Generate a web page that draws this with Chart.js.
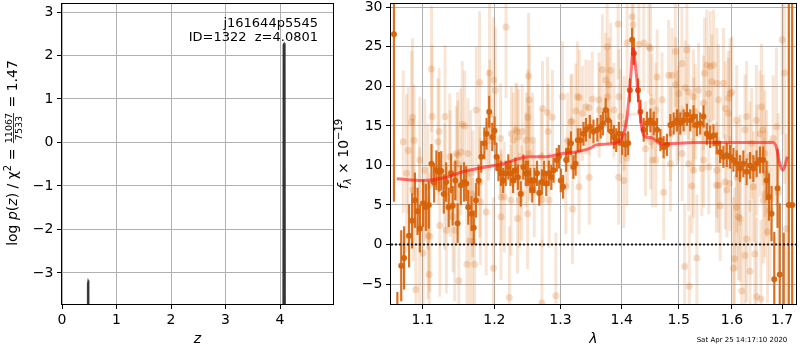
<!doctype html>
<html>

<head>
  <meta charset="utf-8">
  <title>Redshift fit j161644p5545</title>
  <style>
    html, body { margin: 0; padding: 0; background: #fff; }
    #wrap { position: relative; width: 800px; height: 350px; overflow: hidden; }
    canvas { position: absolute; top: -20px; }
    #pz { left: 0; }
    #spec { left: 320px; }
  </style>
</head>

<body>
  <div id="wrap">
    <canvas id="pz" width="345" height="390"></canvas>
    <canvas id="spec" width="480" height="390"></canvas>
  </div>

  <script src="https://cdn.jsdelivr.net/npm/chart.js"></script>
  <script>
    // ---- left panel: p(z)
    const objName = 'j161644p5545';
    const objId = 1322;
    const zBest = 4.0801;
    const chi2 = 11067;
    const nDof = 7533;
    const zGrid = [0.0, 0.46, 0.47, 0.48, 0.49, 0.50, 4.05, 4.06, 4.075, 4.09, 4.10, 4.97];
    const logPz = [-12, -12, -3.25, -3.17, -3.2, -12, -12, 2.25, 2.28, 2.2, -12, -12];
    const zTicks = [0, 1, 2, 3, 4];
    const logPTicks = [-3, -2, -1, 0, 1, 2, 3];

    // ---- right panel: spectrum (flux in 1e-19)
    const lamTicks = [1.1, 1.2, 1.3, 1.4, 1.5, 1.6, 1.7];
    const fluxTicks = [-5, 0, 5, 10, 15, 20, 25, 30];
    const lamMin = 1.0588, lamMax = 1.729;

    // raw (faint) points
    const lightLam = [
      1.0746, 1.0790, 1.0811, 1.0868, 1.0876, 1.0889, 1.0911, 1.0960, 1.0964, 1.1008,
      1.1074, 1.1088, 1.1097, 1.1120, 1.1128, 1.1223, 1.1232, 1.1304, 1.1323, 1.1413,
      1.1436, 1.1459, 1.1482, 1.1495, 1.1542, 1.1575, 1.1607, 1.1621, 1.1645, 1.1683,
      1.1716, 1.1740, 1.1786, 1.1790, 1.1881, 1.1929, 1.1986, 1.1990, 1.2014, 1.2097,
      1.2100, 1.2145, 1.2170, 1.2219, 1.2244, 1.2278, 1.2317, 1.2341, 1.2356, 1.2368,
      1.2467, 1.2493, 1.2508, 1.2518, 1.2568, 1.2594, 1.2710, 1.2720, 1.2797, 1.2823,
      1.2874, 1.2927, 1.3032, 1.3085, 1.3180, 1.3190, 1.3269, 1.3296, 1.3350, 1.3405,
      1.3457, 1.3460, 1.3511, 1.3621, 1.3676, 1.3731, 1.3757, 1.3814, 1.3940, 1.3948,
      1.3953, 1.4036, 1.4092, 1.4178, 1.4195, 1.4293, 1.4380, 1.4467, 1.4497, 1.4586,
      1.4614, 1.4701, 1.4730, 1.4820, 1.4880, 1.4940, 1.5000, 1.5060, 1.5109, 1.5150,
      1.5181, 1.5194, 1.5242, 1.5273, 1.5304, 1.5334, 1.5366, 1.5428, 1.5478, 1.5521,
      1.5584, 1.5708, 1.5710, 1.5741, 1.5745, 1.5773, 1.5836, 1.5869, 1.5900, 1.5931,
      1.5964, 1.5996, 1.6028, 1.6048, 1.6090, 1.6092, 1.6125, 1.6157, 1.6190, 1.6253,
      1.6255, 1.6285, 1.6287, 1.6354, 1.6385, 1.6451, 1.6484, 1.6552, 1.6572, 1.6583,
      1.6618, 1.6650, 1.6651, 1.6704, 1.6751, 1.6884, 1.6920, 1.7003, 1.7055, 1.7088,
      1.0855, 1.1209, 1.1522, 1.1368, 1.1477, 1.1659, 1.1935, 1.1915, 1.2090, 1.2250,
      1.2335, 1.2410, 1.2473, 1.2497, 1.2520, 1.2808, 1.2700, 1.3113, 1.3165, 1.3242,
      1.3300, 1.2405, 1.2715, 1.1070, 1.1300, 1.1798, 1.1690, 1.1030, 1.1375, 1.3786,
      1.3760, 1.3625, 1.3869, 1.3980, 1.4040, 1.4523, 1.4590, 1.4945, 1.5005, 1.5119,
      1.5185, 1.5270, 1.5458, 1.5552, 1.5615, 1.5646, 1.5872, 1.5935, 1.6480, 1.6615,
      1.6818, 1.4088, 1.4409, 1.4500, 1.4530, 1.4850, 1.5064, 1.5462, 1.5556, 1.5700,
      1.5960, 1.6095, 1.6160, 1.6350, 1.6490, 1.6685, 1.6420, 1.4855, 1.5278, 1.4970
    ];
    const lightFlux = [
      13.0, 9.0, 11.9, 16.1, 6.9, 13.2, -5.7, 2.3, 10.7, -1.1,
      1.1, -3.8, 1.0, 22.2, 16.2, 14.3, 2.4, 16.2, 1.8, 3.5,
      1.8, 11.5, 10.2, -4.6, 15.2, 15.0, -2.5, 11.5, 0.5, 0.4,
      -2.5, 17.0, 20.5, 7.9, 4.1, 21.7, -3.0, 20.8, 19.5, 3.5,
      6.0, 6.0, 27.5, -6.7, 5.6, 13.2, 14.5, 3.3, 13.6, 5.6,
      10.7, 3.9, 21.3, 18.3, 13.2, 6.9, -7.4, 17.2, 16.7, 5.6,
      16.1, -6.5, 18.7, 7.3, 15.6, 4.5, 18.7, 7.3, 16.6, 17.4,
      17.3, 8.5, 18.4, 18.3, 22.1, 20.8, 25.0, 22.0, 27.9, 8.5,
      18.7, 8.1, 25.5, 28.8, 27.8, 25.3, 25.5, 25.0, 24.8, 10.7,
      21.2, 18.3, 6.6, 21.4, 21.4, 24.4, 16.6, 22.9, -2.8, 24.6,
      10.2, -5.3, 7.4, 9.4, 16.8, -1.7, 19.5, 9.6, 21.7, 22.7,
      22.5, 9.4, 20.4, 18.3, 7.5, 4.9, 20.4, 7.9, 6.9, 16.6,
      19.1, 19.3, -3.0, -1.8, 4.7, 15.7, 3.5, 3.3, -5.9, -1.4,
      14.5, 0.7, 16.2, -3.4, 12.8, -1.2, -6.6, 14.0, -6.9, 17.4,
      5.6, 6.4, 11.5, 1.6, 4.3, 14.9, 6.6, 25.9, 21.7, 2.0,
      15.5, 13.0, 11.7, 11.1, 11.3, 9.0, 16.4, 15.1, 13.4, 14.0,
      14.3, 14.3, 13.2, 16.1, 11.5, 14.3, 11.1, 13.2, 15.5, 16.9,
      18.6, 6.5, 5.7, 7.3, 7.3, 5.4, 6.4, 9.4, 9.0, 20.2,
      18.7, 17.0, 17.0, 16.2, 15.3, 18.1, 17.0, 20.2, 19.1, 19.8,
      19.3, 18.7, 17.9, 19.1, 20.6, 22.7, 17.2, 18.5, 15.7, 14.5,
      13.4, 10.9, 12.1, 13.0, 10.7, 10.2, 11.5, 10.7, 9.8, 7.5,
      7.7, 8.5, 9.4, 11.1, 10.7, 9.0, 7.3, 14.0, 15.1, 16.0
    ];
    const lightErr = [
      9, 10, 8, 10, 9, 7, 9, 10, 8, 9,
      8, 10, 7, 8, 9, 8, 9, 9, 8, 7,
      9, 6, 8, 9, 8, 7, 8, 7, 9, 8,
      9, 8, 9, 7, 8, 9, 9, 8, 8, 8,
      6, 7, 9, 9, 7, 6, 6, 7, 6, 6,
      6, 7, 8, 7, 6, 6, 8, 6, 7, 6,
      6, 8, 7, 6, 6, 7, 7, 6, 6, 6,
      6, 6, 6, 6, 7, 6, 7, 6, 7, 6,
      6, 6, 6, 6, 5, 6, 6, 6, 6, 6,
      6, 6, 6, 7, 6, 7, 6, 7, 8, 7,
      6, 9, 6, 6, 6, 8, 6, 6, 7, 7,
      7, 6, 7, 7, 6, 7, 7, 6, 6, 7,
      7, 7, 9, 9, 8, 7, 8, 8, 9, 9,
      7, 8, 7, 9, 7, 9, 10, 8, 10, 8,
      8, 8, 8, 9, 9, 10, 10, 12, 14, 12,
      9, 8, 8, 8, 8, 8, 7, 7, 7, 6,
      6, 6, 6, 6, 6, 6, 6, 6, 6, 6,
      6, 6, 6, 8, 8, 8, 8, 9, 8, 6,
      6, 6, 6, 6, 6, 6, 6, 6, 6, 6,
      6, 6, 6, 6, 6, 7, 6, 6, 7, 7,
      8, 6, 6, 6, 6, 6, 6, 6, 6, 6,
      6, 7, 7, 7, 7, 8, 7, 6, 6, 6
    ];

    // binned (dark) points
    const darkLam = [
      1.0626, 1.0670, 1.0720, 1.0757, 1.0822, 1.0862, 1.0899, 1.0934, 1.0965, 1.1008,
      1.1044, 1.1084, 1.1120, 1.1155, 1.1186, 1.1220, 1.1252, 1.1287, 1.1319, 1.1354,
      1.1387, 1.1409, 1.1445, 1.1477, 1.1522, 1.1567, 1.1598, 1.1626, 1.1672, 1.1704,
      1.1735, 1.1773, 1.1810, 1.1855, 1.1887, 1.1925, 1.1970, 1.2003, 1.2031, 1.2059,
      1.2096, 1.2129, 1.2166, 1.2204, 1.2237, 1.2275, 1.2308, 1.2346, 1.2389, 1.2428,
      1.2466, 1.2500, 1.2534, 1.2563, 1.2596, 1.2636, 1.2670, 1.2709, 1.2743, 1.2778,
      1.2817, 1.2857, 1.2891, 1.2941, 1.2975, 1.3005, 1.3040, 1.3090, 1.3125, 1.3166,
      1.3205, 1.3241, 1.3276, 1.3317, 1.3367, 1.3408, 1.3470, 1.3530, 1.3593, 1.3649,
      1.3686, 1.3731, 1.3774, 1.3823, 1.3869, 1.3907, 1.3952, 1.4008, 1.4065, 1.4110,
      1.4139, 1.4178, 1.4207, 1.4280, 1.4322, 1.4378, 1.4436, 1.4495, 1.4553, 1.4612,
      1.4672, 1.4730, 1.4789, 1.4850, 1.4910, 1.4970, 1.5030, 1.5090, 1.5150, 1.5212,
      1.5273, 1.5334, 1.5396, 1.5458, 1.5520, 1.5583, 1.5646, 1.5707, 1.5772, 1.5835,
      1.5899, 1.5964, 1.6028, 1.6091, 1.6157, 1.6222, 1.6287, 1.6354, 1.6420, 1.6484,
      1.6552, 1.6618, 1.6685, 1.6733, 1.6786, 1.6841, 1.6908, 1.6953, 1.7035, 1.7140,
      1.7210
    ];
    const darkFlux = [
      26.6, -12, -2.7, -1.7, 1.1, 3.0, 5.6, 4.2, 2.0, 5.2,
      4.7, 5.0, 10.2, 7.8, 9.4, 9.2, 9.3, 6.4, 7.9, 4.7,
      9.0, 4.9, 8.1, 2.7, 7.5, 7.9, 7.7, 4.7, 3.9, 2.1,
      5.6, 8.1, 11.1, 12.8, 14.0, 16.8, 13.6, 14.4, 11.1, 9.6,
      9.0, 8.1, 9.0, 9.8, 9.0, 8.1, 9.4, 8.5, 6.4, 9.8,
      9.0, 9.0, 8.1, 6.9, 8.1, 9.0, 6.5, 7.9, 9.0, 7.7,
      9.0, 8.5, 9.4, 10.7, 11.1, 8.1, 7.3, 10.7, 11.9, 12.8,
      9.8, 10.2, 13.2, 13.2, 14.0, 14.5, 14.9, 14.3, 14.5, 14.9,
      15.3, 17.0, 15.7, 14.3, 13.6, 13.2, 14.0, 12.8, 12.6, 12.8,
      19.5, 25.9, 24.2, 19.5, 16.8, 14.5, 15.3, 15.7, 15.3, 14.5,
      13.2, 12.3, 12.6, 15.1, 15.3, 15.7, 15.3, 15.7, 16.4, 15.7,
      16.2, 15.1, 15.3, 16.2, 14.0, 13.6, 13.8, 12.8, 11.7, 11.1,
      11.3, 11.1, 10.7, 10.2, 9.6, 10.2, 9.2, 10.0, 9.6, 10.2,
      10.7, 10.7, 8.1, 6.0, 3.9, -4.4, 7.1, -3.8, -8, 5,
      5
    ];
    const darkErr = [
      21.2, 6, 4.5, 4, 4, 3.5, 3.5, 3, 3, 3,
      3, 3, 2.5, 2.5, 2.5, 2.5, 2.5, 2.5, 2.5, 2.5,
      2.5, 2.5, 2.5, 2.5, 2.5, 2.5, 2.2, 2.2, 2.2, 2.2,
      2.2, 2, 2, 2, 2, 2, 1.8, 1.8, 1.8, 1.6,
      1.6, 1.6, 1.6, 1.6, 1.6, 1.6, 1.6, 1.6, 1.6, 1.6,
      1.6, 1.6, 1.6, 1.6, 1.6, 1.6, 1.6, 1.6, 1.6, 1.6,
      1.6, 1.6, 1.6, 1.5, 1.5, 1.5, 1.5, 1.5, 1.5, 1.5,
      1.5, 1.5, 1.5, 1.5, 1.5, 1.5, 1.5, 1.5, 1.5, 1.5,
      1.5, 1.5, 1.5, 1.5, 1.5, 1.5, 1.5, 1.5, 1.5, 1.5,
      1.5, 1.5, 1.5, 1.5, 1.5, 1.5, 1.5, 1.5, 1.5, 1.5,
      1.4, 1.4, 1.4, 1.4, 1.4, 1.4, 1.4, 1.4, 1.4, 1.4,
      1.4, 1.4, 1.4, 1.4, 1.4, 1.4, 1.4, 1.4, 1.4, 1.4,
      1.5, 1.5, 1.5, 1.7, 1.7, 1.7, 1.7, 1.7, 1.7, 1.7,
      1.7, 1.7, 2.5, 3, 3.5, 6, 5, 9, 9.5, 40,
      40
    ];

    // best-fit template
    const modelLam = [1.0661, 1.1008, 1.1323, 1.1551, 1.1881, 1.2122, 1.2518, 1.2773, 1.3029, 1.3242,
      1.3510, 1.3566, 1.3896, 1.4008, 1.4065, 1.4122, 1.4168, 1.4195, 1.4237, 1.4293,
      1.4350, 1.4409, 1.4523, 1.4643, 1.4701, 1.5305, 1.5931, 1.6583, 1.6818, 1.6884,
      1.6953, 1.7021, 1.7110];
    const modelFlux = [8.3, 8.1, 8.5, 9.2, 9.8, 10.2, 11.1, 11.1, 11.5, 11.7,
      12.3, 12.6, 12.8, 13.6, 14.9, 18.3, 22.5, 24.8, 22.5, 18.3,
      14.5, 13.6, 13.5, 12.8, 12.7, 12.9, 12.9, 12.9, 12.9, 12.3,
      10.2, 9.4, 11.1];
    const broadLam = [1.4008, 1.4065, 1.4122, 1.4237, 1.4322, 1.4380];
    const broadFlux = [13.6, 15.3, 16.4, 16.5, 16.3, 14.5];

    const timeStamp = 'Sat Apr 25 14:17:10 2020';

    // ---- helpers
    const FONT = '"DejaVu Sans"';
    Chart.defaults.font.family = FONT;
    Chart.defaults.color = '#000';

    const pts = (xs, ys) => xs.map((x, i) => ({ x: x, y: ys[i] }));
    const minus = (v) => String(v).replace('-', '\u2212');

    function axisX(min, max, ticks, fmt, type, title) {
      return {
        type: type, min: min, max: max,
        afterBuildTicks: (s) => { s.ticks = ticks.map((v) => ({ value: v })); },
        afterFit: (s) => { s.height = 46; },
        grid: { color: '#b0b0b0', lineWidth: 1, tickColor: '#000', tickLength: 5 },
        border: { display: false },
        ticks: { padding: 3, font: { size: 14 }, maxRotation: 0, autoSkip: false, callback: fmt },
        title: { display: true, text: title, font: { size: 14, style: 'italic' }, padding: { top: 0, bottom: 2 } }
      };
    }

    function axisY(min, max, ticks, width) {
      return {
        type: 'linear', min: min, max: max,
        afterBuildTicks: (s) => { s.ticks = ticks.map((v) => ({ value: v })); },
        afterFit: (s) => { s.width = width; },
        grid: { color: '#b0b0b0', lineWidth: 1, tickColor: '#000', tickLength: 5 },
        border: { display: false },
        ticks: { padding: 3.5, font: { size: 14 }, autoSkip: false, callback: minus }
      };
    }

    const frame = {
      id: 'frame',
      afterDatasetsDraw(chart) {
        const { ctx, chartArea: a } = chart;
        ctx.save();
        ctx.strokeStyle = '#000';
        ctx.lineWidth = 1;
        ctx.strokeRect(Math.round(a.left) - 0.5, Math.round(a.top) - 0.5,
          Math.round(a.width) + 1, Math.round(a.height) + 1);
        ctx.restore();
      }
    };

    // vertical label made of pieces (mathtext look)
    function drawRotated(ctx, parts, baseX, centerY) {
      ctx.save();
      ctx.fillStyle = '#000';
      let total = 0;
      parts.forEach((p) => {
        ctx.font = p.font;
        p.w = p.frac ? Math.max(ctx.measureText(p.frac[0]).width, ctx.measureText(p.frac[1]).width) + 2
          : ctx.measureText(p.text).width;
        total += p.w;
      });
      ctx.translate(baseX, centerY);
      ctx.rotate(-Math.PI / 2);
      ctx.textBaseline = 'alphabetic';
      let u = -total / 2;
      parts.forEach((p) => {
        ctx.font = p.font;
        if (p.frac) {
          ctx.textAlign = 'center';
          ctx.fillText(p.frac[0], u + p.w / 2, -5.5);
          ctx.fillText(p.frac[1], u + p.w / 2, 4.5);
          ctx.fillRect(u + 1, -4.3, p.w - 2, 0.8);
        } else {
          ctx.textAlign = 'left';
          ctx.fillText(p.text, u, p.dy || 0);
        }
        u += p.w;
      });
      ctx.restore();
    }

    const N = '14px ' + FONT, I = 'italic 14px ' + FONT;

    const pzLabels = {
      id: 'pzLabels',
      afterDraw(chart) {
        const ctx = chart.ctx;
        drawRotated(ctx, [
          { text: 'log ', font: N },
          { text: 'p', font: I },
          { text: '(', font: N },
          { text: 'z', font: I },
          { text: ')', font: N },
          { text: ' / ', font: N },
          { text: '\u03c7', font: N },
          { text: '2', font: '10px ' + FONT, dy: -6 },
          { text: ' = ', font: N },
          { frac: [String(chi2), String(nDof)], font: '9.5px ' + FONT },
          { text: ' = ' + (chi2 / nDof).toFixed(2), font: N }
        ], 17.3, 173);

        ctx.save();
        ctx.fillStyle = '#000';
        ctx.font = '13px ' + FONT;
        ctx.textAlign = 'right';
        ctx.textBaseline = 'alphabetic';
        ctx.fillText(objName, 318, 47);
        ctx.fillText('ID=' + objId + '  z=' + zBest.toFixed(4), 318, 61);
        ctx.restore();
      }
    };

    const specLabels = {
      id: 'specLabels',
      afterDraw(chart) {
        const ctx = chart.ctx;
        drawRotated(ctx, [
          { text: 'f', font: I },
          { text: '\u03bb', font: 'italic 10px ' + FONT, dy: 3 },
          { text: ' \u00d7 10', font: N },
          { text: '\u221219', font: '10px ' + FONT, dy: -6 }
        ], 28.3, 174);

        ctx.save();
        ctx.fillStyle = '#000';
        ctx.font = '7px ' + FONT;
        ctx.textAlign = 'center';
        ctx.textBaseline = 'alphabetic';
        ctx.fillText(timeStamp, 422, 362);
        ctx.restore();
      }
    };

    // error bars drawn under each dataset's markers
    const errorBars = {
      id: 'errorBars',
      beforeDatasetDraw(chart, args) {
        const ds = chart.data.datasets[args.index];
        if (!ds.errors) return;
        const { ctx, chartArea: a, scales: { x, y } } = chart;
        ctx.save();
        ctx.beginPath();
        ctx.rect(a.left, a.top, a.width, a.height);
        ctx.clip();
        ctx.strokeStyle = ds.errColor;
        ctx.lineWidth = ds.errWidth;
        ds.data.forEach((p, i) => {
          const px = x.getPixelForValue(p.x);
          ctx.beginPath();
          ctx.moveTo(px, y.getPixelForValue(p.y - ds.errors[i]));
          ctx.lineTo(px, y.getPixelForValue(p.y + ds.errors[i]));
          ctx.stroke();
        });
        ctx.restore();
      }
    };

    new Chart(document.getElementById('pz'), {
      type: 'scatter',
      data: {
        datasets: [{
          data: pts(zGrid, logPz),
          showLine: true,
          borderColor: 'rgba(40,40,40,0.85)',
          backgroundColor: 'rgba(40,40,40,0.85)',
          fill: 'start',
          borderWidth: 1.5,
          pointRadius: 0
        }]
      },
      options: {
        responsive: false,
        animation: false,
        events: [],
        layout: { padding: { left: 0, right: 12, top: 24, bottom: 20 } },
        plugins: { legend: { display: false }, tooltip: { enabled: false } },
        scales: {
          x: axisX(0, 4.972, zTicks, (v) => String(v), 'linear', 'z'),
          y: axisY(-3.713, 3.184, logPTicks, 62)
        }
      },
      plugins: [frame, pzLabels]
    });

    const orange = 'rgba(214,98,8,';

    new Chart(document.getElementById('spec'), {
      type: 'scatter',
      data: {
        datasets: [
          {
            data: pts(lightLam, lightFlux),
            errors: lightErr, errColor: orange + '0.17)', errWidth: 3,
            pointRadius: 3.5, pointBorderWidth: 0,
            pointBackgroundColor: orange + '0.22)',
            order: 5
          },
          {
            data: pts(darkLam, darkFlux),
            errors: darkErr, errColor: orange + '0.9)', errWidth: 2.2,
            pointRadius: 3, pointBorderWidth: 0,
            pointBackgroundColor: orange + '0.95)',
            order: 4
          },
          {
            data: pts(broadLam, broadFlux),
            showLine: true, borderColor: 'rgba(255,60,60,0.15)', borderWidth: 3,
            pointRadius: 0, cubicInterpolationMode: 'monotone',
            order: 3
          },
          {
            data: pts(modelLam, modelFlux),
            showLine: true, borderColor: 'rgba(255,20,20,0.6)', borderWidth: 3,
            pointRadius: 0, cubicInterpolationMode: 'monotone',
            order: 2
          },
          {
            data: [{ x: lamMin, y: 0 }, { x: lamMax, y: 0 }],
            showLine: true, borderColor: 'rgba(0,0,0,0.85)', borderWidth: 2,
            borderDash: [2, 2], pointRadius: 0,
            order: 1
          }
        ]
      },
      options: {
        responsive: false,
        animation: false,
        events: [],
        layout: { padding: { left: 0, right: 2, top: 24, bottom: 20 } },
        plugins: { legend: { display: false }, tooltip: { enabled: false } },
        scales: {
          x: axisX(lamMin, lamMax, lamTicks, (v) => Number(v).toFixed(1), 'logarithmic', '\u03bb'),
          y: axisY(-7.53, 30.42, fluxTicks, 71)
        }
      },
      plugins: [errorBars, frame, specLabels]
    });
  </script>
</body>

</html>
